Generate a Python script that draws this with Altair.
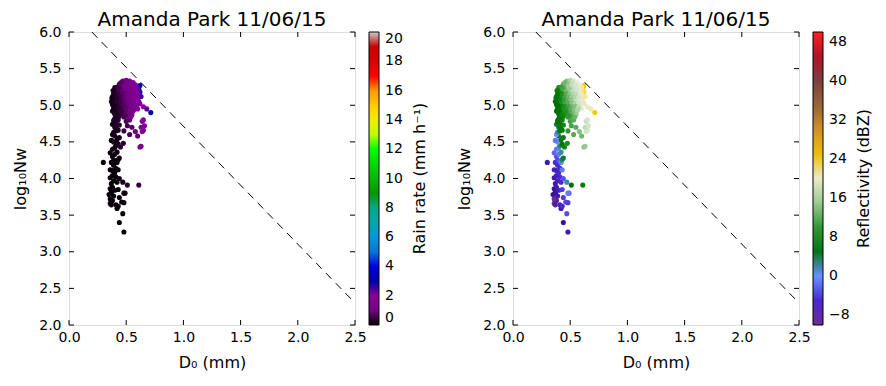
import altair as alt
import pandas as pd

# ---------------- data ----------------
d0 = [
    0.48, 0.44, 0.47, 0.42, 0.36, 0.37, 0.41, 0.43, 0.46, 0.48,
    0.44, 0.49, 0.47, 0.51, 0.61, 0.30, 0.38, 0.36, 0.35, 0.39,
    0.37, 0.36, 0.38, 0.40, 0.37, 0.39, 0.36, 0.41, 0.38, 0.37,
    0.43, 0.42, 0.44, 0.40, 0.38, 0.41, 0.36, 0.39, 0.43, 0.48,
    0.37, 0.39, 0.41, 0.42, 0.43, 0.38, 0.40, 0.44, 0.36, 0.42,
    0.38, 0.40, 0.41, 0.43, 0.39, 0.37, 0.42, 0.44, 0.40, 0.38,
    0.39, 0.41, 0.43, 0.40, 0.42, 0.38, 0.44, 0.41, 0.39, 0.43,
    0.45, 0.475, 0.48, 0.50, 0.53, 0.51, 0.53, 0.58, 0.60, 0.55,
    0.62, 0.63, 0.64, 0.65, 0.63, 0.66, 0.64, 0.65, 0.68, 0.715,
    0.65, 0.62, 0.61, 0.62, 0.63, 0.60, 0.61, 0.59, 0.62, 0.60,
    0.47, 0.50, 0.53, 0.56, 0.44, 0.48, 0.52, 0.55, 0.58, 0.45,
    0.40, 0.42, 0.46, 0.49, 0.52, 0.55, 0.58, 0.60, 0.41, 0.44,
    0.47, 0.50, 0.53, 0.56, 0.59, 0.39, 0.42, 0.45, 0.48, 0.51,
    0.54, 0.57, 0.60, 0.38, 0.41, 0.44, 0.47, 0.50, 0.53, 0.56,
    0.59, 0.39, 0.42, 0.45, 0.48, 0.51, 0.54, 0.57, 0.60, 0.37,
    0.40, 0.43, 0.46, 0.49, 0.52, 0.55, 0.58, 0.38, 0.41, 0.44,
    0.47, 0.50, 0.53, 0.56, 0.59, 0.39, 0.42, 0.45, 0.48, 0.51,
    0.54, 0.57, 0.38, 0.41, 0.44, 0.47, 0.50, 0.53, 0.56, 0.40,
    0.43, 0.46, 0.49, 0.52, 0.55, 0.41, 0.44, 0.48, 0.51, 0.54,
    0.455, 0.485, 0.515, 0.545, 0.575, 0.435, 0.465, 0.495, 0.525, 0.555,
    0.405, 0.435, 0.465, 0.495, 0.525, 0.555, 0.585, 0.395, 0.425, 0.455,
    0.485, 0.515, 0.545, 0.575, 0.385, 0.415, 0.445, 0.475, 0.505, 0.535,
    0.565, 0.595, 0.395, 0.425, 0.455, 0.485, 0.515, 0.545, 0.575, 0.395,
    0.425, 0.455, 0.485, 0.515, 0.545, 0.575, 0.415, 0.445, 0.475, 0.505,
    0.535, 0.565, 0.395, 0.455, 0.425, 0.485, 0.385, 0.375, 0.39, 0.40,
]
log_nw = [
    3.27, 3.40, 3.52, 3.59, 3.66, 3.64, 3.64, 3.62, 3.68, 3.67,
    3.74, 3.80, 3.95, 3.91, 3.91, 4.22, 3.70, 3.72, 3.78, 3.76,
    3.82, 3.86, 3.88, 3.84, 3.93, 3.97, 4.01, 4.02, 4.04, 3.80,
    3.85, 3.95, 4.00, 4.08, 4.11, 4.14, 4.12, 4.18, 4.12, 3.80,
    4.22, 4.25, 4.24, 4.22, 4.26, 4.30, 4.33, 4.28, 4.35, 4.36,
    4.40, 4.42, 4.45, 4.47, 4.50, 4.52, 4.53, 4.56, 4.58, 4.60,
    4.63, 4.65, 4.66, 4.70, 4.72, 4.74, 4.73, 4.77, 4.79, 4.80,
    4.43, 4.48, 4.65, 4.78, 4.80, 4.72, 4.60, 4.64, 4.58, 4.70,
    4.43, 4.44, 4.64, 4.66, 4.70, 4.72, 4.78, 4.80, 4.95, 4.90,
    4.98, 5.27, 5.22, 5.18, 5.12, 5.25, 5.05, 5.15, 5.02, 4.95,
    5.33, 5.34, 5.33, 5.31, 5.29, 5.30, 5.30, 5.29, 5.28, 5.26,
    5.24, 5.25, 5.24, 5.25, 5.24, 5.25, 5.24, 5.23, 5.20, 5.21,
    5.21, 5.20, 5.21, 5.20, 5.19, 5.16, 5.17, 5.16, 5.17, 5.16,
    5.17, 5.16, 5.15, 5.12, 5.13, 5.12, 5.13, 5.12, 5.12, 5.13,
    5.11, 5.08, 5.09, 5.08, 5.09, 5.08, 5.09, 5.08, 5.08, 5.05,
    5.04, 5.05, 5.04, 5.05, 5.04, 5.05, 5.04, 5.01, 5.00, 5.01,
    5.00, 5.01, 5.00, 5.01, 5.00, 4.96, 4.97, 4.96, 4.97, 4.96,
    4.97, 4.96, 4.92, 4.93, 4.92, 4.93, 4.92, 4.93, 4.92, 4.88,
    4.89, 4.88, 4.89, 4.88, 4.87, 4.84, 4.85, 4.84, 4.85, 4.84,
    5.31, 5.27, 5.27, 5.28, 5.22, 5.23, 5.19, 5.22, 5.19, 5.22,
    5.14, 5.15, 5.145, 5.145, 5.15, 5.145, 5.13, 5.11, 5.105, 5.11,
    5.105, 5.11, 5.105, 5.11, 5.065, 5.07, 5.065, 5.065, 5.07, 5.065,
    5.065, 5.06, 5.025, 5.03, 5.025, 5.025, 5.03, 5.025, 5.03, 4.985,
    4.985, 4.98, 4.985, 4.98, 4.985, 4.975, 4.945, 4.95, 4.945, 4.95,
    4.945, 4.94, 4.905, 4.905, 4.86, 4.86, 5.20, 5.10, 5.00, 4.82,
]
rain = [
    0.05, 0.05, 0.08, 0.06, 0.05, 0.04, 0.07, 0.06, 0.10, 0.10,
    0.10, 0.15, 0.15, 0.30, 0.40, 0.05, 0.05, 0.04, 0.05, 0.06,
    0.06, 0.05, 0.06, 0.07, 0.06, 0.07, 0.06, 0.08, 0.07, 0.05,
    0.10, 0.10, 0.12, 0.08, 0.08, 0.09, 0.07, 0.09, 0.12, 0.14,
    0.08, 0.10, 0.10, 0.11, 0.12, 0.10, 0.12, 0.14, 0.10, 0.15,
    0.12, 0.14, 0.15, 0.17, 0.14, 0.13, 0.18, 0.20, 0.17, 0.16,
    0.18, 0.20, 0.25, 0.22, 0.26, 0.20, 0.30, 0.28, 0.25, 0.32,
    0.30, 0.35, 0.50, 0.60, 0.70, 0.55, 0.55, 0.90, 0.80, 0.70,
    1.20, 1.30, 1.70, 1.80, 1.70, 1.90, 1.80, 1.90, 2.30, 3.20,
    2.00, 3.30, 3.10, 2.80, 2.50, 2.60, 2.20, 2.40, 2.10, 1.90,
    0.90, 1.10, 1.30, 1.60, 0.70, 0.90, 1.20, 1.50, 1.80, 0.80,
    0.30, 0.50, 0.80, 1.00, 1.30, 1.50, 1.90, 2.30, 0.40, 0.60,
    0.80, 1.00, 1.20, 1.60, 2.00, 0.25, 0.45, 0.70, 0.90, 1.10,
    1.40, 1.70, 2.10, 0.20, 0.35, 0.55, 0.80, 1.00, 1.20, 1.50,
    1.90, 0.20, 0.40, 0.60, 0.85, 1.00, 1.30, 1.60, 2.00, 0.15,
    0.30, 0.50, 0.70, 0.90, 1.10, 1.40, 1.70, 0.20, 0.30, 0.50,
    0.70, 0.90, 1.10, 1.40, 1.80, 0.20, 0.35, 0.50, 0.70, 0.90,
    1.10, 1.50, 0.20, 0.30, 0.45, 0.60, 0.80, 1.00, 1.30, 0.25,
    0.35, 0.50, 0.70, 0.90, 1.20, 0.30, 0.40, 0.60, 0.75, 1.00,
    0.75, 1.00, 1.20, 1.45, 1.80, 0.60, 0.80, 1.00, 1.20, 1.50,
    0.30, 0.45, 0.70, 0.90, 1.10, 1.40, 1.80, 0.25, 0.40, 0.55,
    0.80, 1.00, 1.30, 1.60, 0.20, 0.30, 0.50, 0.70, 0.95, 1.15,
    1.50, 1.90, 0.25, 0.40, 0.55, 0.75, 0.95, 1.20, 1.60, 0.20,
    0.35, 0.50, 0.70, 0.85, 1.05, 1.40, 0.30, 0.40, 0.60, 0.80,
    1.00, 1.30, 0.20, 0.45, 0.30, 0.60, 0.25, 0.15, 0.20, 0.25,
]
dbz = [
    -7, -8, -3, -7, -10, -9, -6, -5, -3, -4,
    -4, -2, 2, 6, 7, -7, -9, -10, -8, -7,
    -7, -8, -7, -6, -7, -6, -7, -5, -6, -8,
    -4, -5, -3, -5, -6, -5, -6, -5, -1, -1,
    -5, -4, -2, 1, 3, -3, -1, 4, -2, 2,
    -1, 1, 3, 6, 0, -1, 5, 7, 4, 0,
    2, 5, 7, 5, 7, 4, 8, 7, 6, 8,
    8, 9, 10, 11, 12, 11, 12, 14, 13, 12,
    14, 15, 18, 18, 17, 18, 17, 18, 21, 24,
    20, 24, 24, 23, 22, 22, 21, 21, 21, 19,
    14, 16, 18, 19, 13, 15, 17, 19, 20, 13,
    8, 10, 13, 15, 17, 18, 20, 22, 9, 11,
    14, 15, 17, 18, 21, 7, 9, 12, 14, 16,
    17, 19, 21, 6, 8, 11, 13, 15, 16, 18,
    20, 7, 9, 12, 14, 15, 17, 19, 21, 6,
    8, 10, 12, 14, 15, 17, 19, 6, 8, 10,
    12, 14, 15, 17, 19, 6, 8, 10, 12, 13,
    15, 18, 6, 8, 9, 11, 12, 14, 16, 6,
    8, 10, 11, 13, 15, 7, 8, 10, 11, 13,
    13, 15, 17, 18, 20, 11, 13, 15, 17, 18,
    7, 9, 12, 14, 16, 17, 19, 6, 9, 11,
    13, 15, 16, 18, 6, 8, 10, 12, 14, 16,
    18, 20, 6, 9, 11, 12, 14, 16, 18, 6,
    8, 9, 11, 13, 14, 17, 7, 9, 10, 12,
    14, 16, 6, 9, 8, 10, 7, 5, 6, 5,
]

# dashed reference line end points
line_d0 = [0.2, 2.5]
line_nw = [6.0, 2.3]

x_ticks = [0.0, 0.5, 1.0, 1.5, 2.0, 2.5]
y_ticks = [2.0, 2.5, 3.0, 3.5, 4.0, 4.5, 5.0, 5.5, 6.0]
rain_ticks = [0, 2, 4, 6, 8, 10, 12, 14, 16, 18, 20]
dbz_ticks = [-8, 0, 8, 16, 24, 32, 40, 48]

title_text = "Amanda Park 11/06/15"
x_title = "D₀ (mm)"
y_title = "log₁₀Nw"
rain_title = "Rain rate (mm h⁻¹)"
dbz_title = "Reflectivity (dBZ)"

# colour maps (style)
rain_stops = list(range(0, 21))
rain_colors = ["#000000", "#770088", "#880099", "#0000aa", "#0000dd", "#0077dd",
               "#0099dd", "#00aaaa", "#00aa88", "#009900", "#00bb00", "#00dd00",
               "#00ff00", "#bbff00", "#eeee00", "#ffcc00", "#ff9900", "#ff0000",
               "#dd0000", "#cc0000", "#cccccc"]
dbz_stops = [-10, -8, -5, -2, 0, 2, 4, 6, 8, 12, 16, 19, 22, 24, 28, 32, 36, 40, 44, 48, 50]
dbz_colors = ["#6b2c91", "#3a1096", "#4a2ad0", "#6060f0", "#6890ff", "#3a8a9a",
              "#0a7a30", "#007000", "#0a840a", "#5aaa5a", "#b0d4a8", "#e6ece0",
              "#f2e89a", "#f2c800", "#e0a020", "#c08030", "#8a5a3a", "#7a4040",
              "#a00a1a", "#e03050", "#ff2020"]

W, H = 286, 293
FONT = "DejaVu Sans"

df = pd.DataFrame({"D0": d0, "Nw": log_nw, "R": rain, "Z": dbz})
df_line = pd.DataFrame({"D0": line_d0, "Nw": line_nw})
df_xt = pd.DataFrame({"D0": x_ticks})
df_yt = pd.DataFrame({"Nw": y_ticks})

xs = alt.Scale(domain=[0, 2.5], nice=False, zero=False)
ys = alt.Scale(domain=[2, 6], nice=False, zero=False)

xaxis = alt.Axis(values=x_ticks, format=".1f", ticks=False, domain=False, grid=False,
                 labelPadding=5, labelFontSize=14, labelFont=FONT, labelColor="black",
                 labelFlush=False, title=x_title, titleFont=FONT, titleFontSize=16,
                 titleFontWeight="normal", titleColor="black", titlePadding=10)
yaxis = alt.Axis(values=y_ticks, format=".1f", ticks=False, domain=False, grid=False,
                 labelPadding=8, labelFontSize=14, labelFont=FONT, labelColor="black",
                 labelFlush=False, title=y_title, titleFont=FONT, titleFontSize=16,
                 titleFontWeight="normal", titleColor="black", titlePadding=10)


def X():
    return alt.X("D0:Q", scale=xs, axis=xaxis, title=x_title)


def Y():
    return alt.Y("Nw:Q", scale=ys, axis=yaxis, title=y_title)


def panel(field, stops, colors, ticks, cbar_title):
    legend = alt.Legend(title=None, orient="right", direction="vertical", offset=14, padding=0,
                        gradientLength=H, gradientThickness=10, gradientStrokeColor="black",
                        gradientStrokeWidth=1, values=ticks, labelFont=FONT, labelFontSize=14,
                        labelColor="black", labelOffset=6, labelOverlap=False,
                        labelBaseline="middle")
    pts = alt.Chart(df).mark_circle(size=26, opacity=1).encode(
        x=X(), y=Y(),
        color=alt.Color(f"{field}:Q",
                        scale=alt.Scale(domain=stops, range=colors, interpolate="rgb", clamp=True),
                        legend=legend),
    )
    line = alt.Chart(df_line).mark_line(color="black", strokeWidth=1, strokeDash=[8, 6]).encode(
        x=X(), y=Y())
    t_top = alt.Chart(df_xt).mark_rule(color="black").encode(
        x=X(), y=alt.value(0), y2=alt.value(5))
    t_bot = alt.Chart(df_xt).mark_rule(color="black").encode(
        x=X(), y=alt.value(H - 5), y2=alt.value(H))
    t_left = alt.Chart(df_yt).mark_rule(color="black").encode(
        y=Y(), x=alt.value(0), x2=alt.value(5))
    t_right = alt.Chart(df_yt).mark_rule(color="black").encode(
        y=Y(), x=alt.value(W - 5), x2=alt.value(W))
    ctitle = alt.Chart(pd.DataFrame({"t": [cbar_title]})).mark_text(
        angle=270, font=FONT, fontSize=16, color="black", align="center", baseline="middle"
    ).encode(x=alt.value(W + 65), y=alt.value(H / 2), text="t:N")
    return alt.layer(pts, line, t_top, t_bot, t_left, t_right, ctitle).properties(
        width=W, height=H,
        title=alt.TitleParams(title_text, font=FONT, fontSize=20, fontWeight="normal",
                              color="black", anchor="middle", frame="group", offset=-5),
    )


left = panel("R", rain_stops, rain_colors, rain_ticks, rain_title)
right = panel("Z", dbz_stops, dbz_colors, dbz_ticks, dbz_title)

chart = alt.hconcat(left, right, spacing=27).resolve_scale(color="independent").resolve_legend(
    color="independent").properties(
    padding={"left": 4, "top": 1, "right": 0, "bottom": 0}
).configure_view(stroke="black", strokeWidth=1).configure(background="white")

chart.save("out.html", embed_options={"renderer": "svg", "actions": False})
